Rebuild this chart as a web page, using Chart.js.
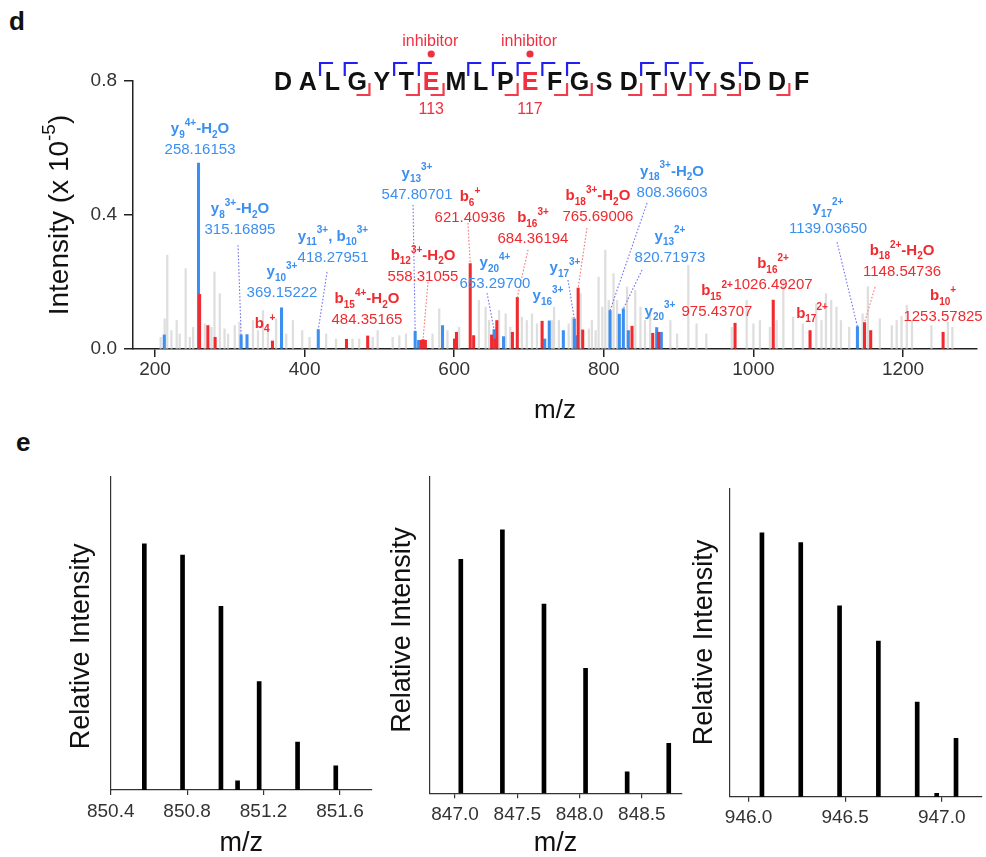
<!DOCTYPE html>
<html>
<head>
<meta charset="utf-8">
<script src="https://cdn.jsdelivr.net/npm/chart.js@4.4.0/dist/chart.umd.min.js"></script>
<style>
body{margin:0;background:#fff;width:986px;height:857px;position:relative;overflow:hidden;font-family:"Liberation Sans",Arial,sans-serif}
canvas{position:absolute}
.pl{position:absolute;font-weight:bold;font-size:26px;line-height:1;color:#111}
</style>
</head>
<body>
<div class="pl" style="left:9px;top:8px">d</div>
<div class="pl" style="left:16px;top:429px">e</div>
<canvas id="cd" width="986" height="430" style="left:0;top:0"></canvas>
<canvas id="ce1" width="380" height="417" style="left:0;top:440px"></canvas>
<canvas id="ce2" width="305" height="417" style="left:380px;top:440px"></canvas>
<canvas id="ce3" width="301" height="417" style="left:685px;top:440px"></canvas>
<script>
const FONT = '"Liberation Sans", Arial, sans-serif';
Chart.defaults.font.family = FONT;

// panel d: MS/MS spectrum (intensity x 10^-5)
const grayMz = [207.6,213,216.4,222,229,233,241,246.6,251,266.6,275.5,279.5,286.6,293,297.7,306.6,313,331,337.7,344.4,351,362,375.5,384.4,396.8,406.6,428.8,442,464,473,491,497.7,517.7,526.6,535.5,571,580,591,606.6,633,642,646.6,660,668.8,675,690.6,697,704,710.6,731,733.5,740,753,758,769,780,784,789,793,798,802,806.6,813,817.7,831,842,849,855,862,889,898,913,924,937,971,991,1000,1008.7,1022,1031,1040,1053,1066,1084,1091,1097,1104,1111,1117,1128,1146,1153,1169,1185,1191.5,1198,1205,1212,1238,1260,1266];
const grayInt = [0.035,0.09,0.28,0.055,0.085,0.045,0.24,0.035,0.065,0.075,0.065,0.23,0.165,0.06,0.045,0.07,0.08,0.085,0.055,0.115,0.075,0.09,0.045,0.085,0.055,0.035,0.045,0.03,0.03,0.03,0.035,0.055,0.035,0.04,0.045,0.045,0.12,0.055,0.065,0.145,0.125,0.085,0.115,0.105,0.065,0.095,0.085,0.105,0.075,0.085,0.125,0.085,0.075,0.095,0.165,0.06,0.085,0.055,0.215,0.125,0.295,0.145,0.225,0.145,0.185,0.175,0.125,0.085,0.105,0.085,0.045,0.25,0.075,0.045,0.065,0.145,0.075,0.085,0.065,0.085,0.205,0.095,0.075,0.135,0.085,0.165,0.145,0.125,0.085,0.065,0.105,0.186,0.09,0.07,0.085,0.097,0.131,0.085,0.07,0.08,0.065];
const blueMz = [212.4,258.16,315.17,323,369.15,418.28,547.81,552.4,584.4,653.3,666,721,727.1,745.9,760.6,763.8,808.37,820.72,826.1,832.8,870.7,876.9,1139.04];
const blueInt = [0.042,0.555,0.042,0.043,0.123,0.058,0.053,0.026,0.07,0.058,0.037,0.03,0.084,0.055,0.09,0.04,0.115,0.104,0.12,0.055,0.064,0.05,0.067];
const redMz = [259.6,270.7,280.4,357,456,484.35,556,558.31,561.5,600.4,603,621.41,626,650,654.5,657,677.8,684.36,717.5,765.69,771.8,837.7,865.4,873.4,975.44,1026.49,1075.7,1148.55,1156.8,1253.58];
const redInt = [0.163,0.07,0.035,0.024,0.029,0.039,0.026,0.028,0.026,0.03,0.05,0.255,0.04,0.042,0.03,0.085,0.05,0.154,0.083,0.182,0.057,0.068,0.047,0.05,0.077,0.146,0.055,0.079,0.055,0.05];
const xTicksD = [200,400,600,800,1000,1200];
const yTicksD = [0,0.4,0.8];

// ion labels: text, m/z text, colour, label centre (m/z, intensity)
const ions = [
  ['y_{9}^{4+}-H_{2}O','258.16153','b',260.2,0.660],
  ['y_{8}^{3+}-H_{2}O','315.16895','b',313.6,0.421],
  ['y_{11}^{3+}, b_{10}^{3+}','418.27951','b',438.0,0.340],
  ['y_{10}^{3+}','369.15222','b',369.8,0.233],
  ['b_{4}^{+}','','r',347.1,0.078],
  ['b_{15}^{4+}-H_{2}O','484.35165','r',483.4,0.152],
  ['y_{13}^{3+}','547.80701','b',550.3,0.528],
  ['b_{6}^{+}','621.40936','r',621.1,0.457],
  ['b_{16}^{3+}','684.36194','r',705.3,0.394],
  ['b_{12}^{3+}-H_{2}O','558.31055','r',558.3,0.281],
  ['y_{20}^{4+}','653.29700','b',654.5,0.260],
  ['b_{18}^{3+}-H_{2}O','765.69006','r',792.2,0.460],
  ['y_{18}^{3+}-H_{2}O','808.36603','b',891.2,0.534],
  ['y_{13}^{2+}','820.71973','b',888.5,0.340],
  ['y_{17}^{3+}','','b',748.1,0.245],
  ['y_{16}^{3+}','','b',725.4,0.161],
  ['y_{20}^{3+}','','b',875.1,0.116],
  ['b_{15}^{2+}','975.43707','r',951.3,0.176],
  ['b_{16}^{2+}','1026.49207','r',1026.2,0.257],
  ['b_{17}^{2+}','','r',1078.3,0.110],
  ['y_{17}^{2+}','1139.03650','b',1099.7,0.424],
  ['b_{18}^{2+}-H_{2}O','1148.54736','r',1198.7,0.296],
  ['b_{10}^{+}','1253.57825','r',1253.5,0.161]
];
// dotted leaders: start (m/z, int) -> peak top (m/z, int)
const leaders = [
  [311,0.310,315.17,0.042,'b'],
  [430,0.230,418.28,0.058,'b'],
  [545,0.430,547.81,0.053,'b'],
  [565,0.200,558.31,0.028,'r'],
  [618.4,0.376,621.41,0.255,'r'],
  [698.7,0.296,684.36,0.154,'r'],
  [643.9,0.167,653.3,0.058,'b'],
  [777.5,0.361,765.69,0.182,'r'],
  [857.8,0.436,808.37,0.115,'b'],
  [851.1,0.236,826.1,0.12,'b'],
  [752.1,0.206,760.6,0.09,'b'],
  [1111.8,0.319,1139.04,0.067,'b'],
  [1162.6,0.185,1148.55,0.079,'r']
];

const peptide = 'DALGYTEMLPEFGSDTVYSDDF'.split('');
const modSites = [6,10];
const modLabels = ['113','117'];
const yGaps = [1,2,4,5,7,8,9,10,11,14,15,16,18];
const bGaps = [3,5,6,9,11,12,14,15,16,17,18,20];

// panel e: isotope envelopes
const iso1Mz = [850.576,850.776,850.977,851.064,851.177,851.378,851.578];
const iso1Int = [0.786,0.75,0.586,0.029,0.346,0.153,0.077];
const iso1Ticks = [850.4,850.8,851.2,851.6];
const iso2Mz = [847.046,847.380,847.714,848.048,848.382,848.716];
const iso2Int = [0.739,0.832,0.598,0.395,0.068,0.158];
const iso2Ticks = [847.0,847.5,848.0,848.5];
const iso3Mz = [946.069,946.270,946.471,946.672,946.873,946.974,947.074];
const iso3Int = [0.856,0.824,0.619,0.505,0.307,0.011,0.189];
const iso3Ticks = [946.0,946.5,947.0];

const BLUE = '#3b8ff0', RED = '#f02a2e';

function pts(xs, ys) { return xs.map((v, i) => ({x: v, y: ys[i]})); }

function richParts(s) {
  const out = []; const re = /([_^])\{([^}]*)\}|([^_^]+)/g; let m;
  while ((m = re.exec(s))) out.push(m[1] ? {t: m[2], k: m[1]} : {t: m[3], k: ''});
  return out;
}
function drawRich(ctx, s, cx, cy, size, weight, color) {
  const parts = richParts(s);
  const small = Math.round(size * 0.68);
  let w = 0;
  parts.forEach(p => {
    ctx.font = weight + ' ' + (p.k ? small : size) + 'px ' + FONT;
    p.w = ctx.measureText(p.t).width; w += p.w;
  });
  let x = cx - w / 2;
  const base = cy + size * 0.36;
  ctx.fillStyle = color; ctx.textAlign = 'left'; ctx.textBaseline = 'alphabetic';
  parts.forEach(p => {
    ctx.font = weight + ' ' + (p.k ? small : size) + 'px ' + FONT;
    const dy = p.k === '_' ? size * 0.28 : p.k === '^' ? -size * 0.48 : 0;
    ctx.fillText(p.t, x, base + dy); x += p.w;
  });
}

function drawPeptide(ctx) {
  const x0 = 283, dx = 24.7, yc = 81;
  ctx.textAlign = 'center'; ctx.textBaseline = 'alphabetic';
  ctx.font = 'bold 25px ' + FONT;
  peptide.forEach((a, i) => {
    ctx.fillStyle = modSites.includes(i) ? '#ee3040' : '#111';
    ctx.fillText(a, x0 + i * dx, yc + 9);
  });
  ctx.lineWidth = 2.2; ctx.lineCap = 'butt';
  ctx.strokeStyle = '#2020f0';
  yGaps.forEach(k => {
    const gx = x0 + (k + 0.5) * dx;
    ctx.beginPath(); ctx.moveTo(gx, yc - 5); ctx.lineTo(gx, yc - 18); ctx.lineTo(gx + 13, yc - 18); ctx.stroke();
  });
  ctx.strokeStyle = '#f03c4c';
  bGaps.forEach(k => {
    const gx = x0 + (k + 0.5) * dx;
    ctx.beginPath(); ctx.moveTo(gx - 13, yc + 14); ctx.lineTo(gx, yc + 14); ctx.lineTo(gx, yc + 2); ctx.stroke();
  });
  modSites.forEach((i, j) => {
    const mx = x0 + i * dx;
    ctx.fillStyle = '#ee3040'; ctx.textAlign = 'center'; ctx.textBaseline = 'middle';
    ctx.font = '16px ' + FONT;
    ctx.fillText('inhibitor', mx - 1, 42);
    ctx.fillText(modLabels[j], mx, 110);
    ctx.beginPath(); ctx.arc(mx, 54, 3.6, 0, Math.PI * 2); ctx.fill();
  });
}

const annoPlugin = {
  id: 'anno',
  afterDraw(chart) {
    const {ctx} = chart; const x = chart.scales.x, y = chart.scales.y;
    ctx.save();
    ctx.lineWidth = 1.1; ctx.setLineDash([1.6, 1.8]);
    leaders.forEach(([m0, i0, m1, i1, c]) => {
      ctx.strokeStyle = c === 'b' ? '#7474f2' : '#f27878';
      ctx.beginPath();
      ctx.moveTo(x.getPixelForValue(m0), y.getPixelForValue(i0));
      ctx.lineTo(x.getPixelForValue(m1), y.getPixelForValue(i1));
      ctx.stroke();
    });
    ctx.setLineDash([]);
    ions.forEach(([lab, num, c, m, i]) => {
      const px = x.getPixelForValue(m), py = y.getPixelForValue(i);
      const col = c === 'b' ? BLUE : RED;
      drawRich(ctx, lab, px, py, 15, 'bold', col);
      if (num) drawRich(ctx, num, px, py + 21, 15, 'normal', col);
    });
    drawPeptide(ctx);
    ctx.save();
    ctx.translate(58, (y.top + y.bottom) / 2);
    ctx.rotate(-Math.PI / 2);
    drawRich(ctx, 'Intensity (x 10^{-5})', 0, 0, 28, 'normal', '#111');
    ctx.restore();
    ctx.restore();
  }
};

new Chart(document.getElementById('cd'), {
  type: 'bar',
  data: {datasets: [
    {data: pts(redMz, redInt), backgroundColor: RED, barThickness: 2.4, order: 1},
    {data: pts(blueMz, blueInt), backgroundColor: BLUE, barThickness: 2.4, order: 2},
    {data: pts(grayMz, grayInt), backgroundColor: '#dedede', barThickness: 1.6, order: 3}
  ]},
  options: {
    responsive: false, animation: false, devicePixelRatio: 1,
    layout: {padding: {left: 0, right: 9, top: 81, bottom: 0}},
    plugins: {legend: {display: false}, tooltip: {enabled: false}},
    datasets: {bar: {grouped: false}},
    scales: {
      x: {
        type: 'linear', min: 170.6, max: 1298.9, offset: false,
        afterBuildTicks: s => { s.ticks = xTicksD.map(v => ({value: v})); },
        afterFit: s => { s.height = 81; },
        grid: {offset: false, drawOnChartArea: false, tickLength: 8, color: '#222', lineWidth: 1.5},
        border: {color: '#222', width: 1.5},
        ticks: {font: {size: 19}, color: '#333', padding: 1, maxRotation: 0, callback: v => String(v)},
        title: {display: true, text: 'm/z', font: {size: 26, lineHeight: 1}, color: '#111', padding: {top: 0, bottom: 6}}
      },
      y: {
        min: 0, max: 0.8,
        afterBuildTicks: s => { s.ticks = yTicksD.map(v => ({value: v})); },
        afterFit: s => { s.width = 133; },
        grid: {drawOnChartArea: false, tickLength: 9, color: '#222', lineWidth: 1.5},
        border: {color: '#222', width: 1.5},
        ticks: {font: {size: 19}, color: '#333', padding: 7, callback: v => v.toFixed(1)}
      }
    }
  },
  plugins: [annoPlugin]
});

// y title drawn by hand so its centre can sit where the figure has it
const yTitlePlugin = {
  id: 'ytitle',
  afterDraw(chart, args, opts) {
    const {ctx} = chart; const a = chart.chartArea;
    ctx.save();
    ctx.translate(opts.x, (a.top + a.bottom) / 2 + opts.dy);
    ctx.rotate(-Math.PI / 2);
    ctx.font = '27px ' + FONT; ctx.fillStyle = '#111';
    ctx.textAlign = 'center'; ctx.textBaseline = 'middle';
    ctx.fillText('Relative Intensity', 0, 0);
    ctx.restore();
  }
};

function isoChart(id, mz, inten, ticks, lim, box, xTitle) {
  return new Chart(document.getElementById(id), {
    type: 'bar',
    data: {datasets: [{data: pts(mz, inten), backgroundColor: '#000', barThickness: 4}]},
    options: {
      responsive: false, animation: false, devicePixelRatio: 1,
      layout: {padding: {left: 0, right: box.r, top: box.t, bottom: 0}},
      plugins: {legend: {display: false}, tooltip: {enabled: false}, ytitle: {x: box.yx, dy: box.dy}},
      scales: {
        x: {
          type: 'linear', min: lim[0], max: lim[1], offset: false,
          afterBuildTicks: s => { s.ticks = ticks.map(v => ({value: v})); },
          afterFit: s => { s.height = box.xh; },
          grid: {offset: false, drawOnChartArea: false, tickLength: 5, color: '#333', lineWidth: 1.2},
          border: {color: '#333', width: 1.2},
          ticks: {font: {size: 19}, color: '#333', padding: 5, maxRotation: 0, callback: v => v.toFixed(1)},
          title: {display: xTitle, text: 'm/z', font: {size: 27, lineHeight: 1}, color: '#111', padding: 0}
        },
        y: {
          min: 0, max: 1,
          afterFit: s => { s.width = box.l; },
          ticks: {display: false}, grid: {display: false},
          border: {color: '#333', width: 1.2}
        }
      }
    },
    plugins: [yTitlePlugin]
  });
}

isoChart('ce1', iso1Mz, iso1Int, iso1Ticks, [850.4, 851.766], {l: 110.7, r: 8.3, t: 36.7, xh: 67, yx: 81.7, dy: 13}, true);
isoChart('ce2', iso2Mz, iso2Int, iso2Ticks, [846.793, 848.82], {l: 49.3, r: 3.3, t: 36.7, xh: 63.7, yx: 23, dy: -5}, true);
isoChart('ce3', iso3Mz, iso3Int, iso3Ticks, [945.9, 947.207], {l: 44.3, r: 4.3, t: 48.3, xh: 60.3, yx: 20, dy: 0}, false);
</script>
</body>
</html>
